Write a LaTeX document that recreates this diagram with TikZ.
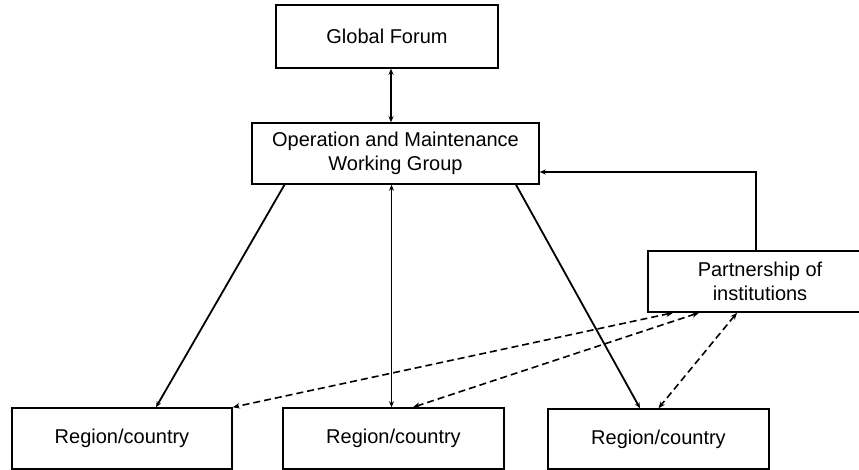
\documentclass[tikz,border=0pt]{standalone}
\usepackage{fontspec}
\setmainfont{Liberation Sans}
\usetikzlibrary{arrows.meta}
\begin{document}
\begin{tikzpicture}[x=1pt,y=-1pt,
  box/.style={draw,line width=1.5pt,rectangle,inner sep=0pt,align=center,
    font=\fontsize{20}{24.5}\selectfont},
  tip/.style={Stealth[length=6pt,width=5pt]},
  conn/.style={line width=1.8pt,-{Stealth[length=6pt,width=5pt]}},
  biconn/.style={line width=1.8pt,{Stealth[length=6pt,width=5pt]}-{Stealth[length=6pt,width=5pt]}},
  dconn/.style={line width=1.6pt,{Stealth[length=7pt,width=5.5pt]}-{Stealth[length=7pt,width=5.5pt]},dash pattern=on 7pt off 4pt}]
\clip (0,0) rectangle (859,470);
\node[box,minimum width=222pt,minimum height=63pt] (GF) at (387,36.5) {Global Forum};
\node[box,minimum width=287pt,minimum height=61pt] (OM) at (395.5,153.5) {Operation and Maintenance\\Working Group};
\node[box,minimum width=224pt,minimum height=61pt] (P) at (760,281.5) {Partnership of\\institutions};
\node[box,minimum width=220pt,minimum height=61pt] (R1) at (122,438.5) {Region/country};
\node[box,minimum width=221pt,minimum height=61pt] (R2) at (393.5,438.5) {Region/country};
\node[box,minimum width=221pt,minimum height=60pt] (R3) at (658.5,439) {Region/country};
% connectors
\draw[biconn] ([xshift=4pt]GF.south) -- ([xshift=4pt]GF.south |- OM.north);
\draw[conn] ([xshift=-111pt]OM.south) -- ([xshift=34pt]R1.north);
\draw[biconn] ([xshift=-4pt]OM.south) -- ([xshift=-4pt]OM.south |- R2.north);
\draw[conn] ([xshift=120.5pt]OM.south) -- ([xshift=-18.5pt]R3.north);
\draw[conn] ([xshift=-4pt]P.north) |- ([yshift=-18.5pt]OM.east);
\draw[dconn] ([xshift=-87pt]P.south) -- (R1.north east);
\draw[dconn] ([xshift=-61pt]P.south) -- ([xshift=19.5pt]R2.north);
\draw[dconn] ([xshift=-23pt]P.south) -- (R3.north);
\end{tikzpicture}
\end{document}
